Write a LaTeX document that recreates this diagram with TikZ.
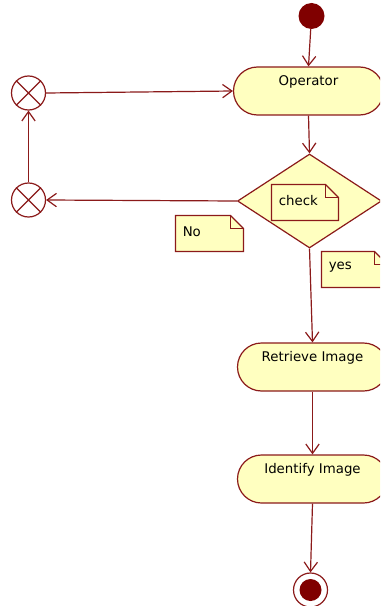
\documentclass[tikz,border=0pt]{standalone}
\usepackage{fontspec}
\setmainfont{DejaVu Sans}
\usetikzlibrary{arrows.meta,shapes.geometric}
\definecolor{umlline}{HTML}{8B1A1A}
\definecolor{umlfill}{HTML}{FFFFC0}
\definecolor{umldot}{HTML}{800000}

\tikzset{
  base/.style={draw=umlline, line width=0.9pt},
  action/.style={base, fill=umlfill, rounded corners=18pt, minimum width=112.5pt,
    minimum height=36pt, inner sep=0pt, text height=7pt, text depth=15pt,
    font=\fontsize{10}{12}\selectfont},
  decision/.style={base, fill=umlfill, diamond, minimum width=108pt,
    minimum height=70.5pt, inner sep=0pt},
  flowend/.style={base, fill=white, circle, minimum size=25.5pt, inner sep=0pt},
  startdot/.style={circle, fill=umldot, minimum size=19.5pt, inner sep=0pt},
  flow/.style={draw=umlline, line width=0.9pt, -{Straight Barb[length=7pt,width=10pt]}},
  notetext/.style={font=\fontsize{10}{12}\selectfont, anchor=west, inner sep=0pt},
}

% UML note with a folded corner: name, left, top, width, height, text
\newcommand\umlnote[6]{%
  \path[base, fill=umlfill] (#2,#3) -- (#2+#4-13,#3) -- (#2+#4,#3+13)
    -- (#2+#4,#3+#5) -- (#2,#3+#5) -- cycle;
  \draw[base] (#2+#4-13,#3) -- (#2+#4-13,#3+13) -- (#2+#4,#3+13);
  \node[notetext] (#1) at (#2+7,#3+#5/2-2) {#6};
}

\begin{document}
\begin{tikzpicture}[x=0.75pt, y=-0.75pt]
  \useasboundingbox (0,0) rectangle (380,606);
  \clip (0,0) rectangle (380,606);

  % activity nodes
  \node[startdot] (start) at (311.5,16) {};
  \node[action] (operator) at (308.5,91) {Operator};
  \node[decision] (check) at (309.5,201) {};
  \node[action] (retrieve) at (312.5,367) {Retrieve Image};
  \node[action] (identify) at (312.5,479) {Identify Image};
  \node[flowend] (final) at (310.5,590) {};
  \node[startdot, minimum size=16.5pt] (finaldot) at (final) {};

  % flow-final nodes of the retry loop
  \node[flowend] (loopTop) at (28.5,93) {};
  \node[flowend] (loopBottom) at (28.5,200) {};
  \foreach \n in {loopTop, loopBottom}
    \draw[base] (\n.north west) -- (\n.south east)
                (\n.north east) -- (\n.south west);

  % notes
  \umlnote{noteCheck}{271.5}{184.5}{67}{36}{check}
  \umlnote{noteNo}{175.5}{215.5}{68}{36}{No}
  \umlnote{noteYes}{321.5}{251.5}{66}{36}{yes}

  % control flows
  \draw[flow] (start) -- (operator.north);
  \draw[flow] (operator.south) -- (check.north);
  \draw[flow] (check.west) -- (loopBottom.east);
  \draw[flow] (loopBottom.north) -- (loopTop.south);
  \draw[flow] (loopTop.east) -- (operator.west);
  \draw[flow] (check.south) -- (retrieve.north);
  \draw[flow] (retrieve.south) -- (identify.north);
  \draw[flow] (identify.south) -- (final.north);
\end{tikzpicture}
\end{document}
